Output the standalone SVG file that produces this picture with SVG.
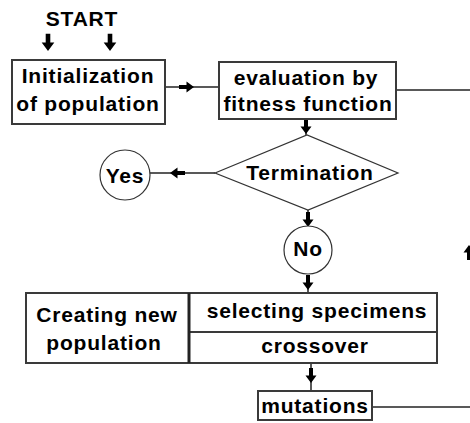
<svg xmlns="http://www.w3.org/2000/svg" width="470" height="423" viewBox="0 0 470 423">
  <defs>
    <style>
      .box { fill: #fff; stroke: #3a3a3a; stroke-width: 2; }
      .thin { fill: #fff; stroke: #333; stroke-width: 1.2; }
      .ln { fill: none; stroke: #222; stroke-width: 1.5; }
      .ah { fill: #000; }
      text { font-family: "Liberation Sans", Arial, sans-serif; font-weight: bold; font-size: 21px; letter-spacing: 0.8px; fill: #000; text-anchor: middle; }
    </style>
    <!-- block arrow pointing +x, tip at the origin -->
    <path id="arr" d="M-15,-2 H-7.5 V-5.5 L0,0 L-7.5,5.5 V2 H-15 Z"/>
  </defs>

  <rect width="470" height="423" fill="#fff"/>

  <!-- connectors -->
  <g id="connectors">
    <line class="ln" x1="165" y1="87" x2="219" y2="87"/>
    <line class="ln" x1="396" y1="90" x2="470" y2="90"/>
    <line class="ln" x1="306" y1="119" x2="306" y2="135"/>
    <line class="ln" x1="215" y1="173" x2="150" y2="173"/>
    <line class="ln" x1="308" y1="210" x2="308" y2="226"/>
    <line class="ln" x1="308" y1="275" x2="308" y2="293"/>
    <line class="ln" x1="311" y1="363" x2="311" y2="391"/>
    <line class="ln" x1="372" y1="407" x2="470" y2="407"/>

    <use href="#arr" class="ah" transform="translate(48,51) rotate(90) scale(1.15)"/>
    <use href="#arr" class="ah" transform="translate(110,51) rotate(90) scale(1.15)"/>
    <use href="#arr" class="ah" transform="translate(194,87)"/>
    <use href="#arr" class="ah" transform="translate(306,134) rotate(90)"/>
    <use href="#arr" class="ah" transform="translate(170,173) rotate(180)"/>
    <use href="#arr" class="ah" transform="translate(308,227) rotate(90)"/>
    <use href="#arr" class="ah" transform="translate(308,290) rotate(90)"/>
    <use href="#arr" class="ah" transform="translate(311,383) rotate(90)"/>
    <use href="#arr" class="ah" transform="translate(469,245) rotate(-90)"/>
  </g>

  <g id="start">
    <text x="82" y="26">START</text>
  </g>

  <g id="init">
    <rect class="box" x="12" y="60" width="153" height="64"/>
    <text x="88" y="83">Initialization</text>
    <text x="88" y="111">of population</text>
  </g>

  <g id="eval">
    <rect class="box" x="219" y="62" width="177" height="57"/>
    <text x="306" y="85">evaluation by</text>
    <text x="308" y="111">fitness function</text>
  </g>

  <g id="termination">
    <polygon class="thin" points="215,173 307,135 398,173 308,210"/>
    <text x="310" y="180">Termination</text>
  </g>

  <g id="yes">
    <circle class="thin" cx="125" cy="175" r="25"/>
    <text x="125" y="183">Yes</text>
  </g>

  <g id="no">
    <circle class="thin" cx="308" cy="250" r="24"/>
    <text x="308" y="256">No</text>
  </g>

  <g id="create">
    <rect class="box" x="26" y="293" width="163" height="70"/>
    <text x="107" y="322">Creating new</text>
    <text x="104" y="350">population</text>
  </g>

  <g id="select">
    <rect class="box" x="189" y="293" width="248" height="70"/>
    <line class="box" x1="189" y1="332" x2="437" y2="332"/>
    <line x1="189" y1="293" x2="189" y2="363" stroke="#222" stroke-width="3"/>
    <text x="317" y="318">selecting specimens</text>
    <text x="315" y="353">crossover</text>
  </g>

  <g id="mutations">
    <rect class="box" x="258" y="391" width="114" height="29"/>
    <text x="315" y="413">mutations</text>
  </g>
</svg>
